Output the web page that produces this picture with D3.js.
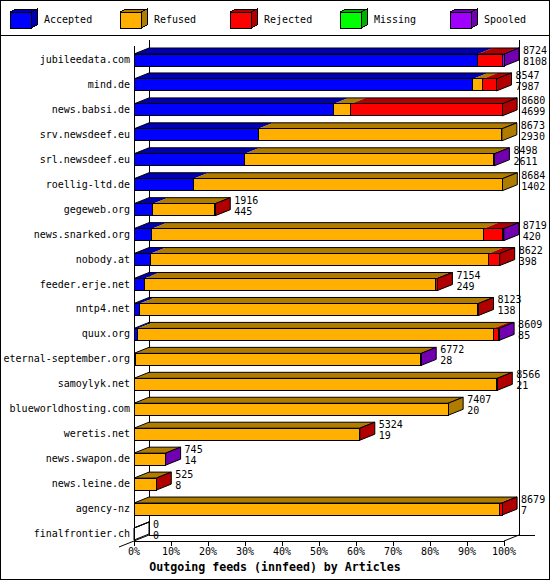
<!DOCTYPE html>
<html>
<head>
<meta charset="utf-8">
<script src="https://cdn.jsdelivr.net/npm/d3@7/dist/d3.min.js"></script>
<style>
  body { margin: 0; background: #fff; }
  text { font-family: "DejaVu Sans Mono", "Liberation Mono", monospace; font-size: 10px; fill: #000; }
</style>
</head>
<body>
<script>
// feeds, top to bottom
const feeds = ["jubileedata.com", "mind.de", "news.babsi.de", "srv.newsdeef.eu", "srl.newsdeef.eu",
	"roellig-ltd.de", "gegeweb.org", "news.snarked.org", "nobody.at", "feeder.erje.net",
	"nntp4.net", "quux.org", "eternal-september.org", "samoylyk.net", "blueworldhosting.com",
	"weretis.net", "news.swapon.de", "news.leine.de", "agency-nz", "finalfrontier.ch"];

// articles per feed
const accepted = [8108, 7987, 4699, 2930, 2611, 1402, 445, 420, 398, 249, 138, 85, 28, 21, 20, 19, 14, 8, 7, 0];
const refused  = [0, 236, 410, 5743, 5872, 7282, 1461, 7817, 7966, 6850, 7965, 8388, 6736, 8537, 7387, 5300, 726, 514, 8607, 0];
const rejected = [580, 324, 3571, 0, 0, 0, 10, 457, 258, 55, 20, 126, 0, 8, 0, 5, 0, 3, 65, 0];
const missing  = [0, 0, 0, 0, 0, 0, 0, 0, 0, 0, 0, 0, 0, 0, 0, 0, 0, 0, 0, 0];
const spooled  = [36, 0, 0, 0, 15, 0, 0, 25, 0, 0, 0, 10, 8, 0, 0, 0, 5, 0, 0, 0];

const seriesNames = ["Accepted", "Refused", "Rejected", "Missing", "Spooled"];
const frontColors = ["#0000ff", "#ffb000", "#ff0000", "#00ff00", "#a000ff"];
const darkColors  = ["#0000b0", "#b07c00", "#b00000", "#00b000", "#7000b0"];
const xTicks = [0, 10, 20, 30, 40, 50, 60, 70, 80, 90, 100];
const title = "Outgoing feeds (innfeed) by Articles";

const W = 550, H = 580;
const dx = 15, dy = 6;   // depth of the 3d effect
const half = 6;          // half height of bar front

const svg = d3.select("body").append("svg")
	.attr("width", W)
	.attr("height", H)
	.style("display", "block")
	.attr("shape-rendering", "crispEdges");

svg.append("rect")
	.attr("x", 0.5).attr("y", 0.5)
	.attr("width", W - 1).attr("height", H - 1)
	.attr("fill", "#fff").attr("stroke", "#000");

// legend
svg.append("line")
	.attr("x1", 0).attr("x2", W)
	.attr("y1", 35.5).attr("y2", 35.5)
	.attr("stroke", "#000");

const legend = svg.selectAll(".legend")
	.data(seriesNames)
	.join("g")
	.attr("class", "legend")
	.attr("transform", (d, i) => `translate(${10 + i * 110}, 0)`);

legend.append("polygon")
	.attr("points", "0,12 6,9 27,9 21,12")
	.attr("fill", (d, i) => darkColors[i]).attr("stroke", "#000");
legend.append("polygon")
	.attr("points", "21,12 27,9 27,25 21,28")
	.attr("fill", (d, i) => darkColors[i]).attr("stroke", "#000");
legend.append("rect")
	.attr("x", 0).attr("y", 12).attr("width", 21).attr("height", 16)
	.attr("fill", (d, i) => frontColors[i]).attr("stroke", "#000");
legend.append("text")
	.attr("x", 34).attr("y", 20)
	.attr("dominant-baseline", "middle")
	.text(d => d);

// data rows
const values = feeds.map((f, i) => [accepted[i], refused[i], rejected[i], missing[i], spooled[i]]);
const totals = values.map(v => d3.sum(v));
const maxTotal = d3.max(totals);

const x = d3.scaleLinear().domain([0, 100]).range([134, 504]);
const y = d3.scalePoint().domain(feeds).range([60, 534]);
const pct = v => v / maxTotal * 100;

const floorY = 541;
const wallTop = 40;

// back wall and floor
const axes = svg.append("g").attr("stroke", "#000").attr("fill", "none");
axes.append("line").attr("x1", x(0) + dx).attr("x2", x(0) + dx).attr("y1", wallTop).attr("y2", floorY - dy);
axes.append("line").attr("x1", x(100) + dx).attr("x2", x(100) + dx).attr("y1", wallTop).attr("y2", floorY - dy);
axes.append("line").attr("x1", x(0) + dx).attr("x2", x(100) + 2 * dx + 1).attr("y1", floorY - dy).attr("y2", floorY - dy);
axes.append("line").attr("x1", x(0)).attr("x2", x(0)).attr("y1", wallTop + dy).attr("y2", floorY);
axes.append("line").attr("x1", x(0)).attr("x2", x(100)).attr("y1", floorY).attr("y2", floorY);
axes.append("line").attr("x1", x(100)).attr("x2", x(100) + dx).attr("y1", floorY).attr("y2", floorY - dy)
	.attr("shape-rendering", "auto");
axes.append("line").attr("x1", x(0) - dx).attr("x2", x(0) + dx).attr("y1", floorY + dy).attr("y2", floorY - dy)
	.attr("shape-rendering", "auto");

axes.selectAll(".tick")
	.data(xTicks)
	.join("line")
	.attr("class", "tick")
	.attr("x1", d => x(d)).attr("x2", d => x(d))
	.attr("y1", floorY).attr("y2", floorY + 5);

svg.selectAll(".ticklabel")
	.data(xTicks)
	.join("text")
	.attr("class", "ticklabel")
	.attr("x", d => x(d))
	.attr("y", 552)
	.attr("text-anchor", "middle")
	.attr("dominant-baseline", "middle")
	.text(d => d + "%");

// bars
feeds.forEach((f, i) => {
	const c = y(f);
	const g = svg.append("g");
	let cum = 0;
	let last = -1;
	const segs = [];
	values[i].forEach((v, k) => {
		if (v > 0) {
			segs.push({k: k, x0: x(pct(cum)), x1: x(pct(cum + v))});
			last = k;
		}
		cum += v;
	});
	const xe = x(pct(cum));
	const top = c - half, bot = c + half;

	// top faces
	segs.forEach(s => {
		g.append("polygon")
			.attr("points", [[s.x0, top], [s.x1, top], [s.x1 + dx, top - dy], [s.x0 + dx, top - dy]].join(" "))
			.attr("fill", darkColors[s.k])
			.attr("shape-rendering", "auto");
	});
	g.append("polygon")
		.attr("points", [[x(0), top], [xe, top], [xe + dx, top - dy], [x(0) + dx, top - dy]].join(" "))
		.attr("fill", "none").attr("stroke", "#000")
		.attr("shape-rendering", "auto");

	// end face
	g.append("polygon")
		.attr("points", [[xe, top], [xe + dx, top - dy], [xe + dx, bot - dy], [xe, bot]].join(" "))
		.attr("fill", last >= 0 ? darkColors[last] : "none")
		.attr("stroke", "#000")
		.attr("shape-rendering", "auto");

	// front
	segs.forEach(s => {
		g.append("rect")
			.attr("x", s.x0).attr("y", top)
			.attr("width", s.x1 - s.x0).attr("height", bot - top)
			.attr("fill", frontColors[s.k])
			.attr("stroke", "#000");
	});

	// value labels
	svg.append("text")
		.attr("x", xe + dx + 4).attr("y", c - 9)
		.attr("dominant-baseline", "middle")
		.text(totals[i]);
	svg.append("text")
		.attr("x", xe + dx + 4).attr("y", c + 2)
		.attr("dominant-baseline", "middle")
		.text(accepted[i]);
});

// feed names
svg.selectAll(".feed")
	.data(feeds)
	.join("text")
	.attr("class", "feed")
	.attr("x", 130)
	.attr("y", d => y(d))
	.attr("text-anchor", "end")
	.attr("dominant-baseline", "middle")
	.text(d => d);

svg.append("text")
	.attr("x", 275)
	.attr("y", 567)
	.attr("text-anchor", "middle")
	.attr("dominant-baseline", "middle")
	.style("font-weight", "bold")
	.style("font-size", "11.6px")
	.text(title);
</script>
</body>
</html>
